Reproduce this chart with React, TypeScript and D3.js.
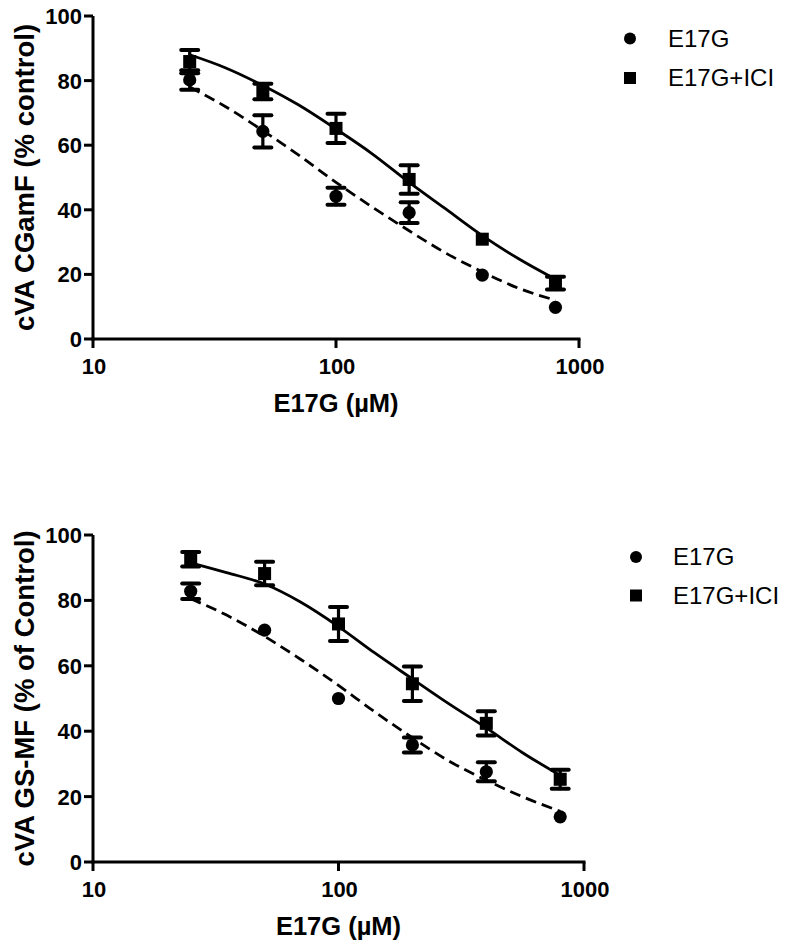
import React from "react";
import * as d3 from "d3";

// ---- data ----
const doses = [25, 50, 100, 200, 400, 800];
const xTicks = [10, 100, 1000];
const yTicks = [0, 20, 40, 60, 80, 100];

// Panel A: cVA CGamF
const aE17G = [80.2, 64.3, 44.2, 39.1, 19.8, 9.8];
const aE17GErr = [3.0, 5.0, 2.6, 3.2, 0, 0];
const aICI = [85.9, 76.6, 65.2, 49.4, 30.9, 17.3];
const aICIErr = [3.6, 2.4, 4.5, 4.4, 0, 2.0];

// Panel B: cVA GS-MF
const bE17G = [82.8, 70.9, 50.0, 35.8, 27.6, 13.8];
const bE17GErr = [2.4, 0, 0, 2.3, 2.9, 0];
const bICI = [92.6, 88.2, 72.8, 54.5, 42.4, 25.3];
const bICIErr = [2.2, 3.6, 5.2, 5.3, 3.7, 2.9];

// fitted curves
const curveX = [25, 35, 50, 70, 100, 140, 200, 280, 400, 560, 800];
const aFitE17G = [78, 72, 64.5, 57, 48.5, 41, 33.5, 26.8, 20.8, 15.8, 12];
const aFitICI = [88, 84, 78.5, 72.5, 65, 57.5, 48.5, 40.5, 32, 25, 18.5];
const bFitE17G = [80.5, 75.5, 69, 62, 54, 46, 38, 31, 25, 20, 15.5];
const bFitICI = [91.5, 88.5, 85, 79.5, 72, 64, 56, 48.5, 41, 33.5, 26.5];

const seriesNames = ["E17G", "E17G+ICI"];
const xTitle = "E17G (\u00b5M)";
const yTitleA = "cVA CGamF (% control)";
const yTitleB = "cVA GS-MF (% of Control)";

const FONT = "'Liberation Sans', Arial, Helvetica, sans-serif";

type PanelProps = {
  x0: number; x1: number; yTop: number; yBottom: number;
  e17g: number[]; e17gErr: number[]; ici: number[]; iciErr: number[];
  fitE17G: number[]; fitICI: number[];
  yTitle: string; legendX: number; legendY: number; legendGap: number; textX: number;
};

function Panel(p: PanelProps) {
  const x = d3.scaleLog().domain([10, 1000]).range([p.x0, p.x1]);
  const y = d3.scaleLinear().domain([0, 100]).range([p.yBottom, p.yTop]);
  const line = d3.line<number>()
    .x((_, i) => x(curveX[i]))
    .y((v) => y(v))
    .curve(d3.curveMonotoneX);
  const sq = 13;
  const cap = 8.5;
  const errBars = (vals: number[], errs: number[], key: string) =>
    vals.map((v, i) => {
      if (!errs[i]) return null;
      const cx = x(doses[i]);
      const hi = y(v + errs[i]);
      const lo = y(v - errs[i]);
      return (
        <g key={key + i} stroke="#000" strokeWidth={3.2} strokeLinecap="round">
          <line x1={cx} x2={cx} y1={hi} y2={lo} />
          <line x1={cx - cap} x2={cx + cap} y1={hi} y2={hi} strokeWidth={4} />
          <line x1={cx - cap} x2={cx + cap} y1={lo} y2={lo} strokeWidth={4} />
        </g>
      );
    });
  return (
    <g>
      {/* fitted curves */}
      <path d={line(p.fitICI) || ""} fill="none" stroke="#000" strokeWidth={2.8} />
      <path d={line(p.fitE17G) || ""} fill="none" stroke="#000" strokeWidth={2.8} strokeDasharray="11,6" />
      {/* error bars */}
      {errBars(p.e17g, p.e17gErr, "ea")}
      {errBars(p.ici, p.iciErr, "ia")}
      {/* markers */}
      {p.e17g.map((v, i) => (
        <circle key={"c" + i} cx={x(doses[i])} cy={y(v)} r={6.6} fill="#000" />
      ))}
      {p.ici.map((v, i) => (
        <rect key={"s" + i} x={x(doses[i]) - sq / 2} y={y(v) - sq / 2} width={sq} height={sq} fill="#000" />
      ))}
      {/* axes */}
      <line x1={p.x0} x2={p.x0} y1={p.yTop} y2={p.yBottom + 1.5} stroke="#000" strokeWidth={3} />
      <line x1={p.x0 - 1.5} x2={p.x1 + 1.5} y1={p.yBottom} y2={p.yBottom} stroke="#000" strokeWidth={3} />
      {yTicks.map((t) => (
        <g key={"yt" + t}>
          <line x1={p.x0 - 9} x2={p.x0} y1={y(t)} y2={y(t)} stroke="#000" strokeWidth={3} />
          <text x={p.x0 - 11} y={y(t)} dy="0.36em" textAnchor="end" fontFamily={FONT} fontWeight="bold" fontSize={22} fill="#000">
            {t}
          </text>
        </g>
      ))}
      {xTicks.map((t) => (
        <g key={"xt" + t}>
          <line x1={x(t)} x2={x(t)} y1={p.yBottom} y2={p.yBottom + 9} stroke="#000" strokeWidth={3} />
          <text x={x(t) + 1} y={p.yBottom + 35} textAnchor="middle" fontFamily={FONT} fontWeight="bold" fontSize={22} fill="#000">
            {t}
          </text>
        </g>
      ))}
      <text x={(p.x0 + p.x1) / 2} y={p.yBottom + 73} textAnchor="middle" fontFamily={FONT} fontWeight="bold" fontSize={25.5} fill="#000">
        {xTitle}
      </text>
      <text
        transform={`translate(${34},${(p.yTop + p.yBottom) / 2}) rotate(-90)`}
        textAnchor="middle" fontFamily={FONT} fontWeight="bold" fontSize={27.5} fill="#000"
      >
        {p.yTitle}
      </text>
      {/* legend */}
      <circle cx={p.legendX} cy={p.legendY} r={6} fill="#000" />
      <rect x={p.legendX - 6} y={p.legendY + p.legendGap - 6} width={12} height={12} fill="#000" />
      <text x={p.textX} y={p.legendY + 8} fontFamily={FONT} fontSize={24} fill="#000">{seriesNames[0]}</text>
      <text x={p.textX} y={p.legendY + p.legendGap + 8} fontFamily={FONT} fontSize={24} fill="#000">{seriesNames[1]}</text>
    </g>
  );
}

export default function App() {
  return (
    <svg width={796} height={946} style={{ position: "absolute", left: 0, top: 0, background: "#fff" }}>
      <rect width={796} height={946} fill="#fff" />
      <Panel
        x0={93} x1={579} yTop={16} yBottom={339}
        e17g={aE17G} e17gErr={aE17GErr} ici={aICI} iciErr={aICIErr}
        fitE17G={aFitE17G} fitICI={aFitICI}
        yTitle={yTitleA} legendX={630} legendY={38.5} legendGap={39.5} textX={668}
      />
      <Panel
        x0={93} x1={584} yTop={535} yBottom={862}
        e17g={bE17G} e17gErr={bE17GErr} ici={bICI} iciErr={bICIErr}
        fitE17G={bFitE17G} fitICI={bFitICI}
        yTitle={yTitleB} legendX={636} legendY={557} legendGap={38.5} textX={673}
      />
    </svg>
  );
}
